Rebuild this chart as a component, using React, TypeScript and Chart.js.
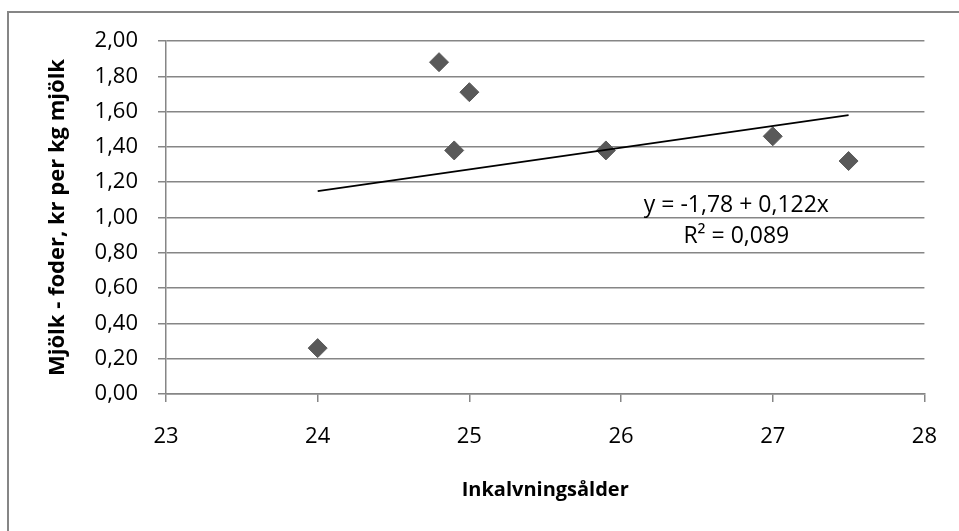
import React, { useEffect, useRef } from 'react';
import { Chart, registerables } from 'chart.js';

Chart.register(...registerables);

// ---- Data ----
const ageValues = [24, 24.8, 24.9, 25, 25.9, 27, 27.5];
const marginValues = [0.26, 1.88, 1.38, 1.71, 1.38, 1.46, 1.32];
const trendAges = [24, 27.5];
const trendValues = [1.15, 1.58];
const xTickValues = [23, 24, 25, 26, 27, 28];
const yTickValues = [0, 0.2, 0.4, 0.6, 0.8, 1.0, 1.2, 1.4, 1.6, 1.8, 2.0];
const equationLines = ['y = -1,78 + 0,122x', 'R² = 0,089'];
const xAxisTitle = 'Inkalvningsålder';
const yAxisTitle = 'Mjölk - foder, kr per kg mjölk';

// annotation anchor (data coordinates)
const annotationX = 26.76;
const annotationYs = [1.07, 0.895];

const FONT = '"Open Sans", "Liberation Sans", sans-serif';
const GRID = '#868686';

export default function App() {
  const canvasRef = useRef<HTMLCanvasElement | null>(null);

  useEffect(() => {
    let chart: Chart | null = null;
    let cancelled = false;

    const annotationPlugin = {
      id: 'equationText',
      afterDatasetsDraw(c: any) {
        const { ctx, scales } = c;
        ctx.save();
        ctx.font = `23px ${FONT}`;
        ctx.fillStyle = '#000';
        ctx.textAlign = 'center';
        ctx.textBaseline = 'middle';
        const px = scales.x.getPixelForValue(annotationX);
        equationLines.forEach((t, i) => {
          ctx.fillText(t, px, scales.y.getPixelForValue(annotationYs[i]));
        });
        ctx.restore();
      },
    };

    const build = () => {
      if (cancelled || !canvasRef.current) return;
      chart = new Chart(canvasRef.current, {
        type: 'scatter',
        data: {
          datasets: [
            {
              label: 'data',
              data: ageValues.map((x, i) => ({ x, y: marginValues[i] })),
              pointStyle: 'rectRot',
              pointRadius: 9.5,
              pointHoverRadius: 9.5,
              backgroundColor: '#595959',
              borderColor: '#595959',
              borderWidth: 1,
              showLine: false,
              order: 2,
            },
            {
              label: 'trend',
              data: trendAges.map((x, i) => ({ x, y: trendValues[i] })),
              showLine: true,
              pointRadius: 0,
              borderColor: '#000000',
              borderWidth: 1.75,
              fill: false,
              order: 1,
            },
          ] as any,
        },
        options: {
          animation: false,
          responsive: false,
          maintainAspectRatio: false,
          devicePixelRatio: 1,
          layout: { padding: { left: 0, top: 41, right: 33, bottom: 0 } },
          plugins: {
            legend: { display: false },
            tooltip: { enabled: false },
            title: { display: false },
          },
          scales: {
            x: {
              type: 'linear',
              min: xTickValues[0],
              max: xTickValues[xTickValues.length - 1],
              afterBuildTicks: (s: any) => {
                s.ticks = xTickValues.map((v) => ({ value: v }));
              },
              afterFit: (s: any) => {
                s.height = 137;
              },
              ticks: {
                font: { family: FONT, size: 22 },
                color: '#000',
                padding: 22,
                maxRotation: 0,
                callback: (v: any) => String(v),
              },
              grid: {
                display: true,
                drawOnChartArea: false,
                drawTicks: true,
                tickLength: 8,
                color: GRID,
                lineWidth: 1.5,
              },
              border: { display: true, color: GRID, width: 1.5 },
              title: {
                display: true,
                text: xAxisTitle,
                font: { family: FONT, size: 20, weight: 'bold' },
                color: '#000',
                padding: { top: 0, bottom: 29 },
              },
            },
            y: {
              type: 'linear',
              min: yTickValues[0],
              max: yTickValues[yTickValues.length - 1],
              afterBuildTicks: (s: any) => {
                s.ticks = yTickValues.map((v) => ({ value: v }));
              },
              afterFit: (s: any) => {
                s.width = 166;
              },
              ticks: {
                font: { family: FONT, size: 22 },
                color: '#000',
                padding: 20,
                callback: (v: any) => Number(v).toFixed(2).replace('.', ','),
              },
              grid: {
                display: true,
                drawOnChartArea: true,
                drawTicks: true,
                tickLength: 8,
                color: GRID,
                lineWidth: 1.5,
              },
              border: { display: true, color: GRID, width: 1.5 },
              title: {
                display: true,
                text: yAxisTitle,
                font: { family: FONT, size: 22, weight: 'bold' },
                color: '#000',
                padding: { top: 45, bottom: 0 },
              },
            },
          },
        } as any,
        plugins: [annotationPlugin],
      });
    };

    const fontsApi = (document as any).fonts;
    if (fontsApi && fontsApi.load) {
      Promise.all([
        fontsApi.load(`22px "Open Sans"`),
        fontsApi.load(`bold 20px "Open Sans"`),
      ])
        .catch(() => null)
        .then(build);
    } else {
      build();
    }

    return () => {
      cancelled = true;
      if (chart) chart.destroy();
    };
  }, []);

  return (
    <div
      style={{
        position: 'fixed',
        left: 0,
        top: 0,
        width: 959,
        height: 531,
        overflow: 'hidden',
        background: '#fff',
      }}
    >
      <div
        style={{
          position: 'absolute',
          left: 7,
          top: 11,
          width: 1000,
          height: 600,
          border: `2px solid ${GRID}`,
          boxSizing: 'border-box',
        }}
      />
      <canvas
        ref={canvasRef}
        width={959}
        height={531}
        style={{ position: 'absolute', left: 0, top: 0, width: 959, height: 531 }}
      />
    </div>
  );
}
